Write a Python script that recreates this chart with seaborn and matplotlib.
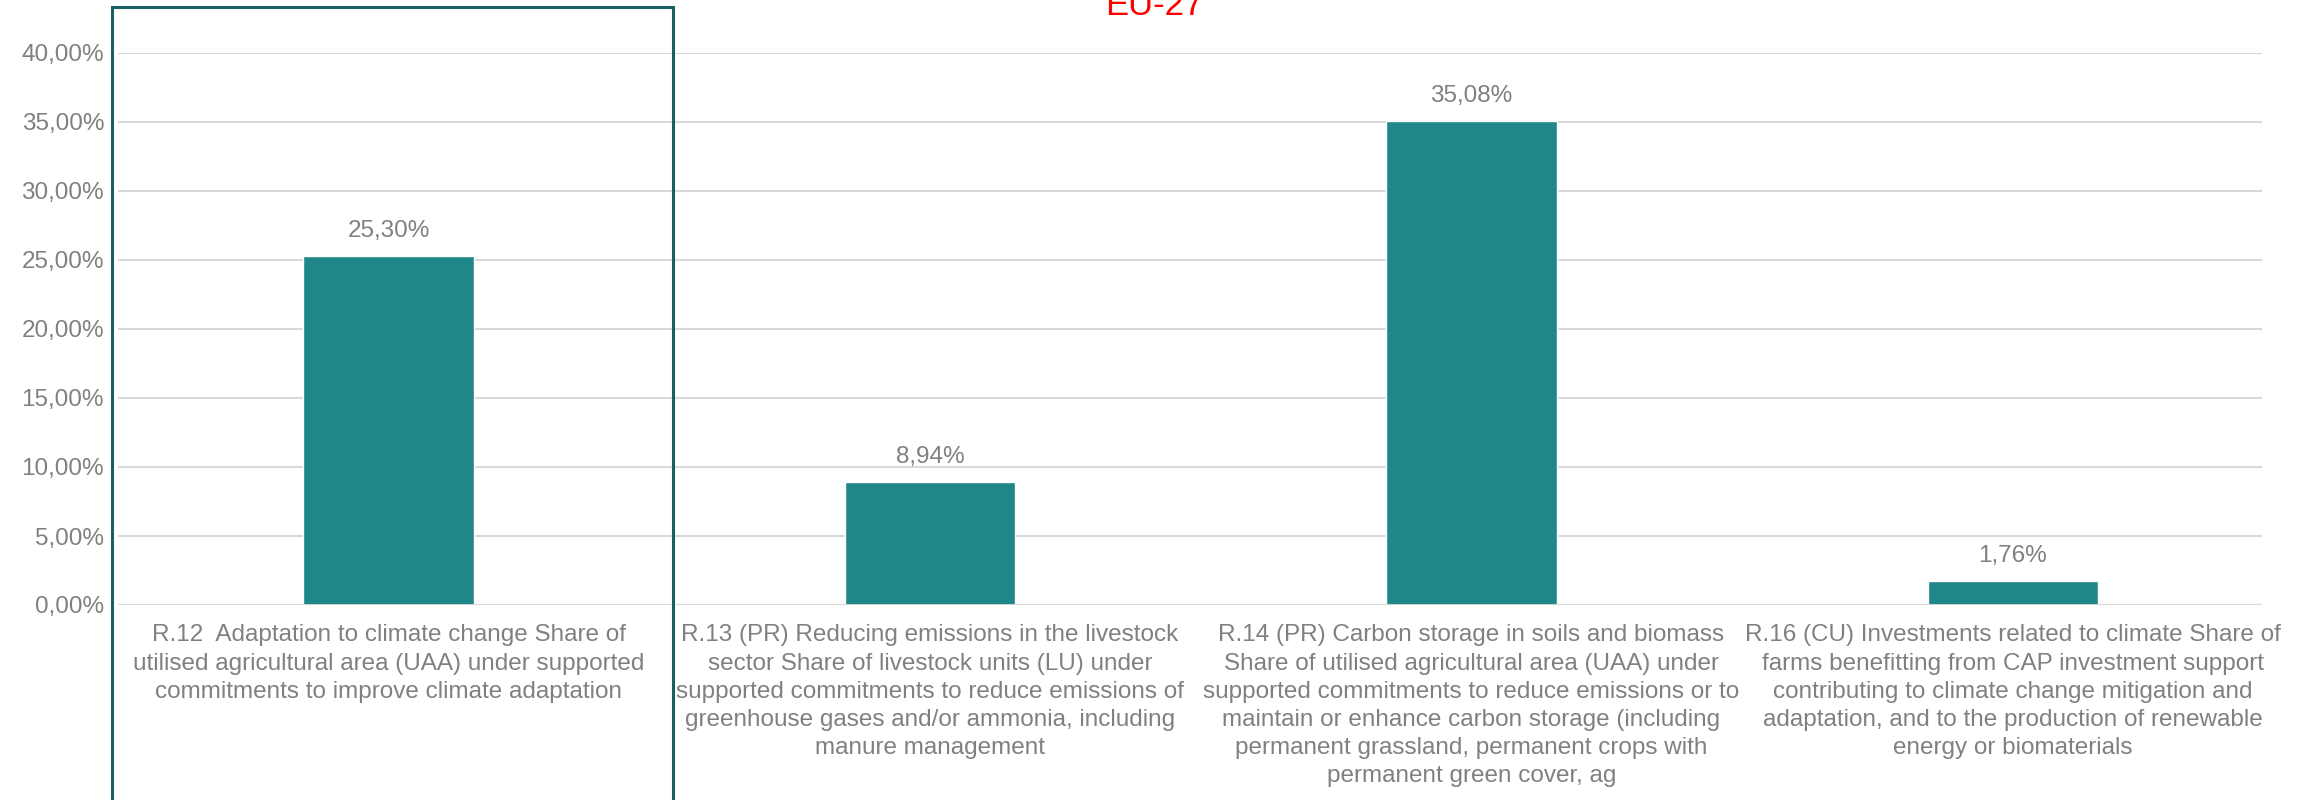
import matplotlib
matplotlib.use("Agg")
import matplotlib.pyplot as plt
import matplotlib.patches as mpatches
from matplotlib.ticker import FuncFormatter, MultipleLocator
import seaborn as sns
import pandas as pd

# data
categories = [
    "R.12  Adaptation to climate change Share of\nutilised agricultural area (UAA) under supported\ncommitments to improve climate adaptation",
    "R.13 (PR) Reducing emissions in the livestock\nsector Share of livestock units (LU) under\nsupported commitments to reduce emissions of\ngreenhouse gases and/or ammonia, including\nmanure management",
    "R.14 (PR) Carbon storage in soils and biomass\nShare of utilised agricultural area (UAA) under\nsupported commitments to reduce emissions or to\nmaintain or enhance carbon storage (including\npermanent grassland, permanent crops with\npermanent green cover, ag",
    "R.16 (CU) Investments related to climate Share of\nfarms benefitting from CAP investment support\ncontributing to climate change mitigation and\nadaptation, and to the production of renewable\nenergy or biomaterials",
]
values = [0.2530, 0.0894, 0.3508, 0.0176]
title = "EU-27"

bar_color = "#1F8789"
text_color = "#808080"
grid_color = "#D9D9D9"

sns.set_theme(style="white")
plt.rcParams['font.family'] = ['Liberation Sans', 'DejaVu Sans']

df = pd.DataFrame({"cat": categories, "val": values})

fig = plt.figure(figsize=(23.08, 8), dpi=100)
ax = fig.add_axes([118/2308, 1 - 605/800, (2262-118)/2308, (605-53)/800])

sns.barplot(data=df, x="cat", y="val", color=bar_color, width=0.315,
            saturation=1, ax=ax)

ax.set_ylim(0, 0.40)
ax.set_xlim(-0.5, 3.46)
ax.yaxis.set_major_locator(MultipleLocator(0.05))
ax.yaxis.set_major_formatter(FuncFormatter(lambda v, p: f"{v*100:.2f}%".replace(".", ",")))
ax.grid(axis="y", color=grid_color, linewidth=1.5)
ax.set_axisbelow(True)
for s in ax.spines.values():
    s.set_visible(False)
ax.axhline(0, color=grid_color, linewidth=2, zorder=1)

ax.set_xlabel("")
ax.set_ylabel("")
ax.tick_params(axis="both", length=0, labelsize=17.5, colors=text_color)
ax.tick_params(axis="x", pad=14)
ax.tick_params(axis="y", pad=10)
for lab in ax.get_xticklabels():
    lab.set_linespacing(1.36)
    lab.set_verticalalignment("top")

labels = [f"{v*100:.2f}%".replace(".", ",") for v in values]
ax.bar_label(ax.containers[0], labels=labels, padding=10, fontsize=17.5, color=text_color)

# highlight box around first category
box = mpatches.Rectangle((112/2308, -0.01), (673-112)/2308, 1 - 7/800 + 0.01,
                         transform=fig.transFigure, fill=False,
                         edgecolor="#1B5E63", linewidth=2.2, clip_on=False)
fig.patches.append(box)

fig.text(0.5, 1 - 15/800, title, color="red", fontsize=25, ha="center", va="baseline")

fig.savefig("out.png", dpi=100)
